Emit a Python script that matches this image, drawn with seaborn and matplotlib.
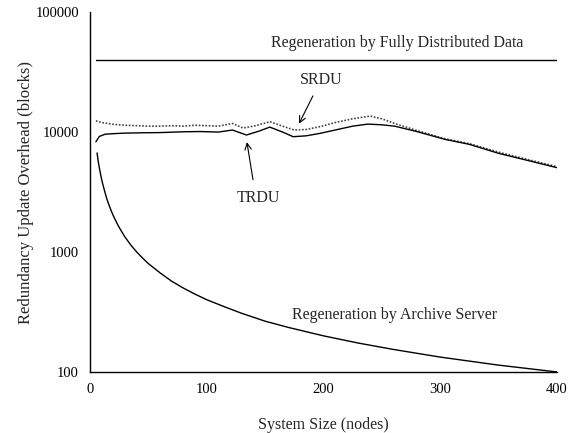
import numpy as np
import pandas as pd
import matplotlib
matplotlib.use("Agg")
import matplotlib.pyplot as plt
import seaborn as sns
from matplotlib.ticker import FixedLocator, FixedFormatter, NullLocator

# values
full_x = [5, 400]
full_y = [40000, 40000]

archive_x = [6, 7, 8, 9, 10, 11, 12, 14, 16, 18, 20, 23, 26, 30, 35, 40, 45, 50, 60, 70, 80, 90,
             100, 115, 130, 150, 170, 200, 230, 260, 300, 350, 400]
archive_y = [6700, 5700, 5000, 4450, 4000, 3650, 3350, 2850, 2500, 2220, 2000, 1740, 1540, 1330, 1140,
             1000, 890, 800, 670, 570, 500, 445, 400, 350, 308, 265, 235, 200, 174, 154, 133, 114, 100]

srdu_x = [5, 10, 20, 30, 40, 50, 60, 70, 80, 90, 100, 110, 122, 131, 142, 154, 165, 175, 185, 197,
          210, 225, 240, 250, 261, 280, 304, 325, 350, 375, 400]
srdu_y = [12400, 12000, 11600, 11400, 11300, 11200, 11200, 11300, 11200, 11400, 11300, 11200, 11800, 10800,
          11300, 12200, 11200, 10400, 10500, 11100, 12000, 12900, 13600, 12900, 11800, 10300, 8800, 8000,
          6800, 5900, 5150]

trdu_x = [5, 8, 13, 20, 30, 47, 60, 81, 94, 110, 122, 134, 145, 154, 165, 174, 185, 197,
          210, 225, 238, 250, 261, 280, 304, 325, 350, 375, 400]
trdu_y = [8300, 9200, 9600, 9700, 9800, 9870, 9900, 10060, 10100, 10000, 10400, 9450, 10200, 11000, 10000,
          9150, 9300, 9750, 10400, 11200, 11650, 11500, 11200, 10100, 8700, 7900, 6650, 5800, 5050]

sns.set_style("white")
plt.rcParams['font.family'] = ['Liberation Serif', 'DejaVu Serif']
plt.rcParams['font.size'] = 11.5

fig = plt.figure(figsize=(5.7, 4.33), dpi=100)
ax = fig.add_axes([0.158, 0.141, 0.819, 0.831])

sns.lineplot(x=full_x, y=full_y, ax=ax, color="black", linewidth=1.0)
sns.lineplot(x=archive_x, y=archive_y, ax=ax, color="black", linewidth=1.0)
sns.lineplot(x=srdu_x, y=srdu_y, ax=ax, color="#444444", linewidth=1.2, linestyle=(0, (1, 1)))
sns.lineplot(x=trdu_x, y=trdu_y, ax=ax, color="black", linewidth=1.0)

ax.set_yscale("log")
ax.set_xlim(0, 400)
ax.set_ylim(100, 100000)
ax.set_xticks([0, 100, 200, 300, 400])
ax.yaxis.set_major_locator(FixedLocator([100, 1000, 10000, 100000]))
ax.yaxis.set_major_formatter(FixedFormatter(["100", "1000", "10000", "100000"]))
ax.yaxis.set_minor_locator(NullLocator())
ax.tick_params(direction="in", length=4, width=0.8, colors="black", labelsize=10.5, pad=8)

for side in ["top", "right"]:
    ax.spines[side].set_visible(False)
for side in ["left", "bottom"]:
    ax.spines[side].set_color("black")
    ax.spines[side].set_linewidth(1.0)

ax.set_xlabel("System Size (nodes)", fontsize=11.5, labelpad=15)
ax.set_ylabel("Redundancy Update Overhead (blocks)", fontsize=12, labelpad=1)

ax.text(263, 55000, "Regeneration by Fully Distributed Data", ha="center", va="center", fontsize=11.5)
ax.text(261, 300, "Regeneration by Archive Server", ha="center", va="center", fontsize=11.5)
ax.text(198, 27000, "SRDU", ha="center", va="center", fontsize=11.5)
ax.text(144, 2820, "TRDU", ha="center", va="center", fontsize=11.5)

ax.annotate("", xy=(178, 11200), xytext=(192, 21000),
            arrowprops=dict(arrowstyle="->", color="black", lw=0.8))
ax.annotate("", xy=(134, 8700), xytext=(140, 3800),
            arrowprops=dict(arrowstyle="->", color="black", lw=0.8))

fig.savefig("out.png", dpi=100)
